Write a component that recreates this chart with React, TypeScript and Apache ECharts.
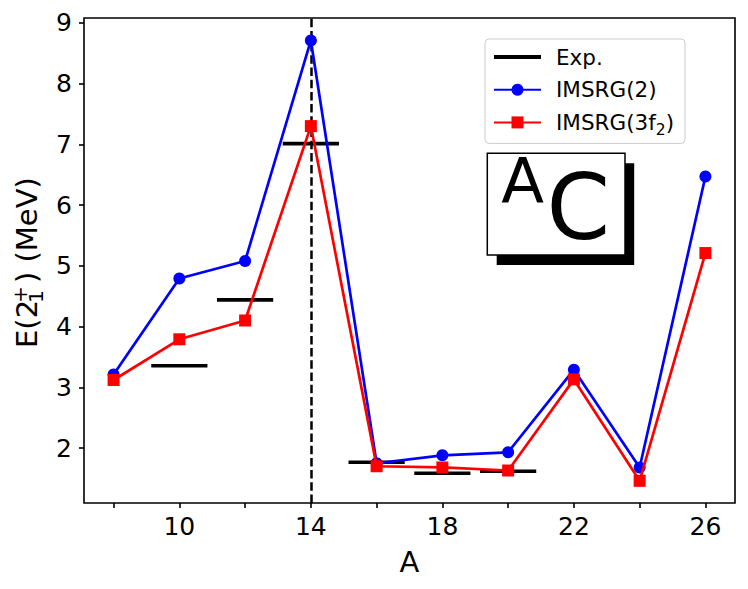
import React, { useEffect, useRef } from 'react';
import * as echarts from 'echarts';

// ---- data ----
const massNumbers = [8, 10, 12, 14, 16, 18, 20, 22, 24, 26];
const imsrg2 = [3.21, 4.79, 5.08, 8.71, 1.75, 1.88, 1.93, 3.29, 1.68, 6.47];
const imsrg3f2 = [3.12, 3.79, 4.1, 7.3, 1.7, 1.68, 1.63, 3.13, 1.46, 5.21];
const expA = [10, 12, 14, 16, 18, 20];
const expE = [3.354, 4.439, 7.012, 1.766, 1.585, 1.618];
const xTickValues = [8, 10, 12, 14, 16, 18, 20, 22, 24, 26];
const xLabelValues = [10, 14, 18, 22, 26];
const yTickValues = [2, 3, 4, 5, 6, 7, 8, 9];
const closedShellA = 14;
const expHalfWidth = 0.8;
const X_MIN = 7.1;
const X_MAX = 26.9;
const Y_MIN = 1.095;
const Y_MAX = 9.08;

const FONT = 'DejaVu Sans';

export default function App() {
  const ref = useRef<HTMLDivElement>(null);

  useEffect(() => {
    if (!ref.current) return;
    const chart = echarts.init(ref.current, undefined, { renderer: 'svg' });

    const option: any = {
      animation: false,
      backgroundColor: '#ffffff',
      textStyle: { fontFamily: FONT },
      grid: {
        left: 84,
        top: 18,
        width: 651,
        height: 485,
        show: true,
        borderColor: '#000',
        borderWidth: 1.6,
        backgroundColor: 'transparent',
        containLabel: false,
      },
      xAxis: {
        type: 'value',
        min: X_MIN,
        max: X_MAX,
        name: 'A',
        nameLocation: 'middle',
        nameGap: 44,
        nameTextStyle: { fontFamily: FONT, fontSize: 29, color: '#000' },
        axisLine: { show: false },
        splitLine: { show: false },
        axisTick: {
          show: true,
          inside: false,
          length: 5,
          customValues: xTickValues,
          lineStyle: { color: '#000', width: 1.6 },
        },
        axisLabel: {
          show: true,
          margin: 11,
          customValues: xLabelValues,
          fontFamily: FONT,
          fontSize: 25,
          color: '#000',
        },
      },
      yAxis: {
        type: 'value',
        min: Y_MIN,
        max: Y_MAX,
        axisLine: { show: false },
        splitLine: { show: false },
        axisTick: {
          show: true,
          inside: false,
          length: 5,
          customValues: yTickValues,
          lineStyle: { color: '#000', width: 1.6 },
        },
        axisLabel: {
          show: true,
          margin: 12,
          customValues: yTickValues,
          fontFamily: FONT,
          fontSize: 25,
          color: '#000',
        },
      },
      legend: {
        orient: 'vertical',
        left: 485,
        top: 39,
        padding: [2, 11, 5, 8],
        itemWidth: 47,
        itemHeight: 15,
        itemGap: 0.7,
        selectedMode: false,
        backgroundColor: 'rgba(255,255,255,0.8)',
        borderColor: '#cccccc',
        borderWidth: 1,
        borderRadius: 4,
        textStyle: {
          fontFamily: FONT,
          fontSize: 21.5,
          color: '#000',
          lineHeight: 32,
          rich: {
            sp: { width: 10, fontFamily: FONT, fontSize: 21.5, color: '#000' },
            sub: { fontFamily: FONT, fontSize: 15.5, lineHeight: 15, color: '#000', verticalAlign: 'bottom' },
          },
        },
        formatter: (name: string) => {
          if (name === 'IMSRG(3f2)') return '{sp| }IMSRG(3f{sub|2})';
          return '{sp| }' + name;
        },
        data: [
          { name: 'Exp.', icon: 'path://M0 0H47V4H0Z', itemStyle: { color: '#000' } },
          { name: 'IMSRG(2)' },
          { name: 'IMSRG(3f2)' },
        ],
      },
      series: [
        {
          name: 'Exp.',
          type: 'custom',
          color: '#000',
          data: expA.map((a, i) => [a, expE[i]]),
          renderItem: (params: any, api: any) => {
            const a = api.value(0);
            const e = api.value(1);
            const p1 = api.coord([a - expHalfWidth, e]);
            const p2 = api.coord([a + expHalfWidth, e]);
            return {
              type: 'line',
              shape: { x1: p1[0], y1: p1[1], x2: p2[0], y2: p2[1] },
              style: { stroke: '#000', lineWidth: 3.6, lineCap: 'square' },
            };
          },
          z: 2,
        },
        {
          name: 'closed-shell',
          type: 'line',
          data: [],
          z: 2,
          markLine: {
            silent: true,
            symbol: 'none',
            z: 2,
            label: { show: false },
            lineStyle: { color: '#000', width: 2.5, type: [8.5, 3.7] },
            data: [{ xAxis: closedShellA }],
          },
        },
        {
          name: 'IMSRG(2)',
          type: 'line',
          color: '#0000ff',
          data: massNumbers.map((a, i) => [a, imsrg2[i]]),
          symbol: 'circle',
          symbolSize: 12,
          showAllSymbol: true,
          lineStyle: { color: '#0000ff', width: 2.7 },
          itemStyle: { color: '#0000ff' },
          z: 3,
        },
        {
          name: 'IMSRG(3f2)',
          type: 'line',
          color: '#ff0000',
          data: massNumbers.map((a, i) => [a, imsrg3f2[i]]),
          symbol: 'rect',
          symbolSize: 12,
          showAllSymbol: true,
          lineStyle: { color: '#ff0000', width: 2.7 },
          itemStyle: { color: '#ff0000' },
          z: 4,
        },
      ],
      graphic: [
        {
          type: 'group',
          x: 36.7,
          y: 348,
          rotation: Math.PI / 2,
          children: [
            { type: 'text', x: 0, y: -10, style: { text: 'E(2', fontFamily: FONT, fontSize: 29, fill: '#000', align: 'left', verticalAlign: 'middle' } },
            { type: 'text', x: 45, y: -16.7, style: { text: '+', fontFamily: FONT, fontSize: 20.3, fill: '#000', align: 'left', verticalAlign: 'middle' } },
            { type: 'text', x: 45, y: -0.5, style: { text: '1', fontFamily: FONT, fontSize: 20.3, fill: '#000', align: 'left', verticalAlign: 'middle' } },
            { type: 'text', x: 65, y: -10, style: { text: ') (MeV)', fontFamily: FONT, fontSize: 29, fill: '#000', align: 'left', verticalAlign: 'middle' } },
          ],
        },
        {
          type: 'group',
          z: 20,
          children: [
            { type: 'rect', shape: { x: 496.7, y: 163.3, width: 137.5, height: 101.7 }, style: { fill: '#000' } },
            { type: 'rect', shape: { x: 487.3, y: 153.3, width: 137.7, height: 101.7 }, style: { fill: '#fff', stroke: '#000', lineWidth: 1.5 } },
            { type: 'text', x: 501.2, y: 181.6, style: { text: 'A', fontFamily: FONT, fontSize: 62.5, fill: '#000', align: 'left', verticalAlign: 'middle' } },
            { type: 'text', x: 546.5, y: 207, style: { text: 'C', fontFamily: FONT, fontSize: 91, fill: '#000', align: 'left', verticalAlign: 'middle' } },
          ],
        },
      ],
    };

    chart.setOption(option);
    return () => chart.dispose();
  }, []);

  return (
    <div
      ref={ref}
      style={{ position: 'absolute', left: 0, top: 0, width: 748, height: 589, background: '#fff' }}
    />
  );
}
